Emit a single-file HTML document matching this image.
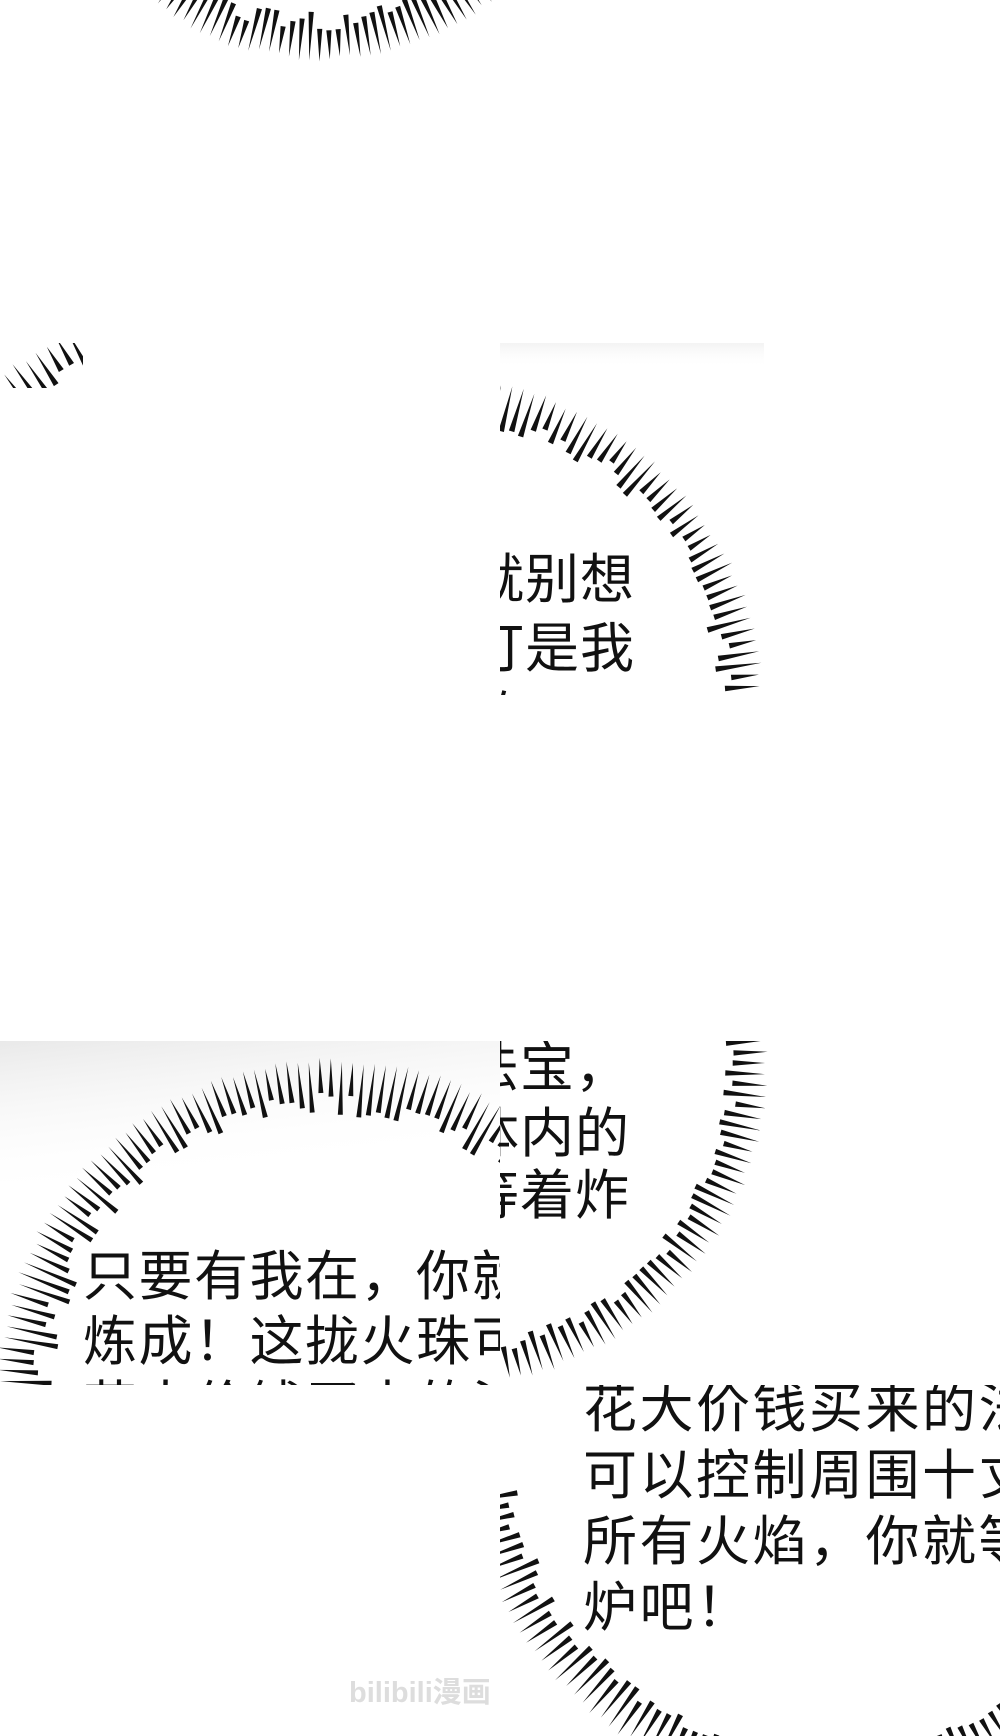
<!DOCTYPE html>
<html><head><meta charset="utf-8"><style>
html,body{margin:0;padding:0;background:#fff;}
svg{display:block}
text{font-family:"Liberation Sans","Noto Sans CJK SC",sans-serif;fill:#111;}
</style></head><body>
<svg id="s" width="1000" height="1736" viewBox="0 0 1000 1736" xmlns="http://www.w3.org/2000/svg">
<defs>
<clipPath id="c1"><rect x="0" y="0" width="500" height="120"/></clipPath>
<clipPath id="c2"><rect x="0" y="343" width="83" height="45"/></clipPath>
<clipPath id="c3"><rect x="500" y="343" width="264" height="352"/></clipPath>
<clipPath id="c4"><rect x="0" y="1041" width="500" height="344"/></clipPath>
<clipPath id="c5"><rect x="500" y="1041" width="280" height="344"/></clipPath>
<clipPath id="c6"><rect x="500" y="1385" width="500" height="351"/></clipPath>
<linearGradient id="g1" x1="0" y1="0" x2="0.4" y2="1"><stop offset="0" stop-color="#e9e9e9"/><stop offset="1" stop-color="#fff" stop-opacity="0"/></linearGradient>
<linearGradient id="g2" x1="0" y1="0" x2="0" y2="1"><stop offset="0" stop-color="#f3f3f3"/><stop offset="1" stop-color="#fff" stop-opacity="0"/></linearGradient>
</defs>
<rect x="0" y="1041" width="500" height="140" fill="url(#g1)"/>
<rect x="500" y="343" width="264" height="25" fill="url(#g2)"/>
<g id="b1" clip-path="url(#c1)"></g>
<g id="b2" clip-path="url(#c2)"></g>
<g id="b3" clip-path="url(#c3)"></g>
<g id="b4" clip-path="url(#c4)"></g>
<g id="b5" clip-path="url(#c5)"></g>
<g id="b6" clip-path="url(#c6)"></g>

<g clip-path="url(#c3)" font-size="54" letter-spacing="1">
<text x="470" y="598">就别想</text>
<text x="470" y="667">打是我</text>
<text x="470" y="736">的！</text>
</g>
<g clip-path="url(#c5)" font-size="54" letter-spacing="1">
<text x="465" y="1086">法宝，</text>
<text x="465" y="1152">体内的</text>
<text x="465" y="1214">等着炸</text>
</g>
<g clip-path="url(#c4)" font-size="54" letter-spacing="1.5">
<text x="83" y="1295">只要有我在，你就</text>
<text x="83" y="1360">炼成！这拢火珠可</text>
<text x="83" y="1425">花大价钱买来的法</text>
</g>
<g clip-path="url(#c6)" font-size="54" letter-spacing="2.5">
<text x="583" y="1427">花大价钱买来的法</text>
<text x="583" y="1494">可以控制周围十丈</text>
<text x="583" y="1560">所有火焰，你就等</text>
<text x="583" y="1626">炉吧！</text>
</g>
<text x="349" y="1702" font-size="29" font-weight="bold" style="fill:#dddddd">bilibili漫画</text>
</svg>
<script>
(function(){
var NS="http://www.w3.org/2000/svg";
var seed=7;function rnd(){seed=(seed*16807)%2147483647;return seed/2147483647;}
function burst(id,cx,cy,rOut,lmin,lmax,step,w,a0,a1){
  a0=(a0===undefined)?0:a0;a1=(a1===undefined)?360:a1;
  var g=document.getElementById(id),d="";
  for(var a=a0;a<a1;a+=step){
    var t=a*Math.PI/180,L=lmin+rnd()*(lmax-lmin),ri=rOut-L,ro=rOut-rnd()*6;
    var c=Math.cos(t),s=Math.sin(t),px=-s,py=c;
    var x1=cx+c*ri,y1=cy+s*ri,x2=cx+c*ro,y2=cy+s*ro;
    d+="M"+(x1+px*w).toFixed(1)+" "+(y1+py*w).toFixed(1)+"L"+(x1-px*w).toFixed(1)+" "+(y1-py*w).toFixed(1)+"L"+x2.toFixed(1)+" "+y2.toFixed(1)+"Z";
  }
  var p=document.createElementNS(NS,"path");p.setAttribute("d",d);p.setAttribute("fill","#111");g.appendChild(p);
}
burst("b1",321,-221,283,30,50,2.1,2.6);
burst("b2",300,760,490,30,50,1.5,2.8);
burst("b3",432,709,334,28,48,2.0,2.8);
burst("b4",332,1395,338,35,60,1.9,2.5);
burst("b5",443,1063,327,30,48,2.0,2.7);
burst("b6",820,1440,358,35,52,1.9,2.7,96,172);
burst("b6",820,1440,358,30,45,2.0,2.6,56,72);
})();
</script>
</body></html>
